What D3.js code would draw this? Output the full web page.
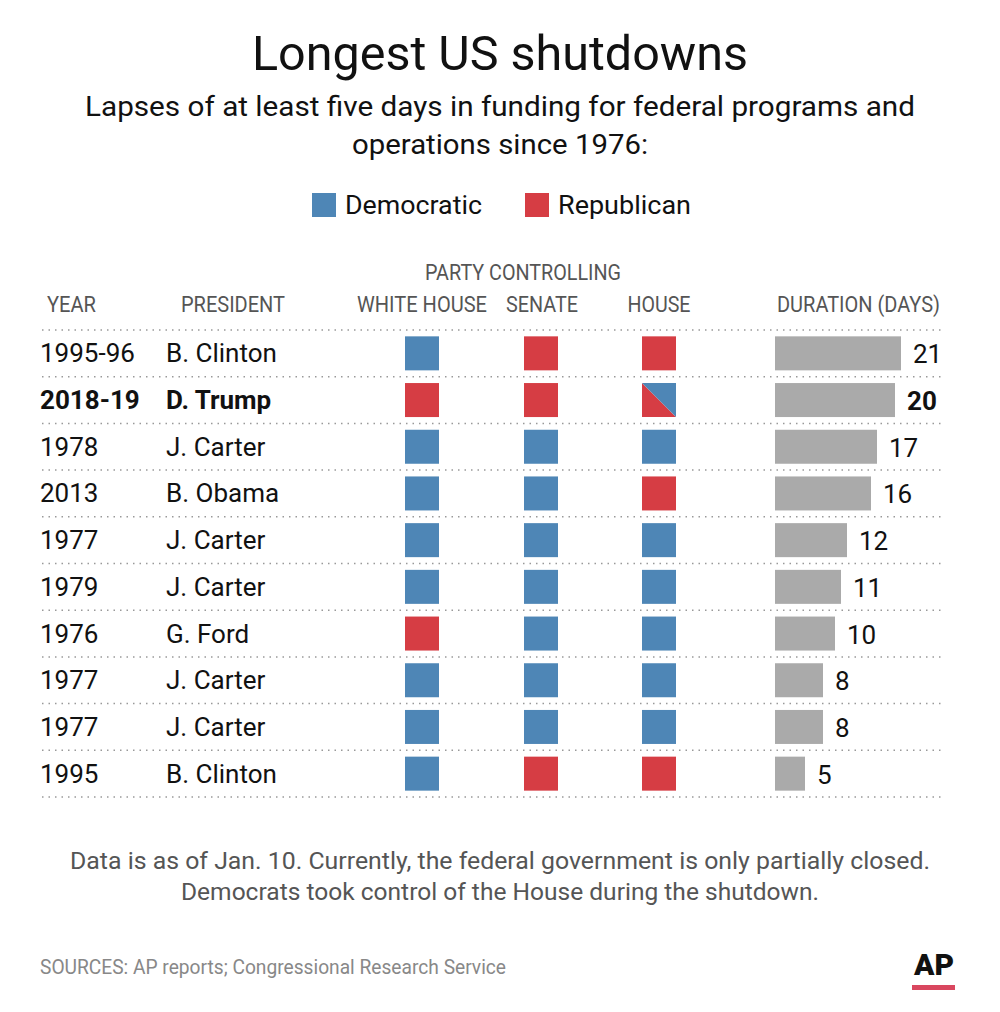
<!DOCTYPE html><html><head><meta charset="utf-8"><script src="https://cdn.jsdelivr.net/npm/d3@7"></script>
<style>body{margin:0;background:#fff}text{font-family:Roboto,"Noto Sans",sans-serif}</style></head><body><svg id="c" width="1000" height="1012"></svg>
<script>
const years=["1995-96","2018-19","1978","2013","1977","1979","1976","1977","1977","1995"];
const presidents=["B. Clinton","D. Trump","J. Carter","B. Obama","J. Carter","J. Carter","G. Ford","J. Carter","J. Carter","B. Clinton"];
const whiteHouse=["D","R","D","D","D","D","R","D","D","D"];
const senate=["R","R","D","D","D","D","D","D","D","R"];
const house=["R","RD","D","R","D","D","D","D","D","R"];
const days=[21,20,17,16,12,11,10,8,8,5];
const C={D:"#4e86b6",R:"#d63d44"};
const svg=d3.select("#c");
const y=d3.scaleBand().domain(d3.range(years.length)).range([330,797]);
const x=d3.scaleLinear().domain([0,21]).range([775,901]);
const t=(x0,y0,s,o={})=>svg.append("text").attr("x",x0).attr("y",y0).text(s).attr("font-size",o.fs||24).attr("fill",o.fill||"#111").attr("text-anchor",o.a||"start").attr("font-weight",o.w||400).attr("textLength",o.tl||null).attr("lengthAdjust","spacingAndGlyphs");
t(500,70,"Longest US shutdowns",{fs:49,a:"middle",tl:496});
t(500,116,"Lapses of at least five days in funding for federal programs and",{fs:28,a:"middle",tl:830});
t(500,154,"operations since 1976:",{fs:28,a:"middle",tl:296});
svg.append("rect").attr("x",312).attr("y",193).attr("width",24).attr("height",24).attr("fill",C.D);
t(345,214,"Democratic",{fs:26,tl:137});
svg.append("rect").attr("x",525).attr("y",193).attr("width",24).attr("height",24).attr("fill",C.R);
t(558,214,"Republican",{fs:26,tl:133});
const hc="#555";
t(47,312,"YEAR",{fs:22,fill:hc,tl:49});t(181,312,"PRESIDENT",{fs:22,fill:hc,tl:104});
t(523,280,"PARTY CONTROLLING",{fs:22,fill:hc,a:"middle",tl:196});
t(422,312,"WHITE HOUSE",{fs:22,fill:hc,a:"middle",tl:130});
t(542,312,"SENATE",{fs:22,fill:hc,a:"middle",tl:72});
t(659,312,"HOUSE",{fs:22,fill:hc,a:"middle",tl:63});
t(940,312,"DURATION (DAYS)",{fs:22,fill:hc,a:"end",tl:163});
d3.range(years.length+1).forEach(i=>{
  const yy=i<years.length?y(i):y.range()[1];
  svg.append("line").attr("x1",42).attr("x2",945).attr("y1",yy).attr("y2",yy).attr("stroke","#999").attr("stroke-dasharray","1.5,5").attr("stroke-width",1.5);
});
const sq=34;
function cell(cx,i,v){
  const cy=y(i)+y.bandwidth()/2, x0=cx-sq/2, y0=cy-sq/2;
  if(v==="RD"){
    svg.append("path").attr("d",`M${x0},${y0}L${x0+sq},${y0+sq}L${x0},${y0+sq}Z`).attr("fill",C.R);
    svg.append("path").attr("d",`M${x0},${y0}L${x0+sq},${y0}L${x0+sq},${y0+sq}Z`).attr("fill",C.D);
  } else svg.append("rect").attr("x",x0).attr("y",y0).attr("width",sq).attr("height",sq).attr("fill",C[v]);
}
years.forEach((yr,i)=>{
  const cy=y(i)+y.bandwidth()/2, b=i===1?700:400;
  t(40,cy+9,yr,{fs:26,w:b});
  t(166,cy+9,presidents[i],{fs:26,w:b});
  cell(422,i,whiteHouse[i]);cell(541,i,senate[i]);cell(659,i,house[i]);
  svg.append("rect").attr("x",x(0)).attr("y",cy-17).attr("width",x(days[i])-x(0)).attr("height",34).attr("fill","#aaa");
  t(x(days[i])+12,cy+10,days[i],{fs:26,w:b});
});
t(500,869,"Data is as of Jan. 10. Currently, the federal government is only partially closed.",{fs:23,fill:"#555",a:"middle",tl:860});
t(500,900,"Democrats took control of the House during the shutdown.",{fs:23,fill:"#555",a:"middle",tl:638});
t(40,974,"SOURCES: AP reports; Congressional Research Service",{fs:21,fill:"#888",tl:466});
t(934,975,"AP",{fs:30,w:900,a:"middle"});
svg.append("rect").attr("x",912).attr("y",985).attr("width",43).attr("height",5).attr("fill","#d9475f");
</script></body></html>
